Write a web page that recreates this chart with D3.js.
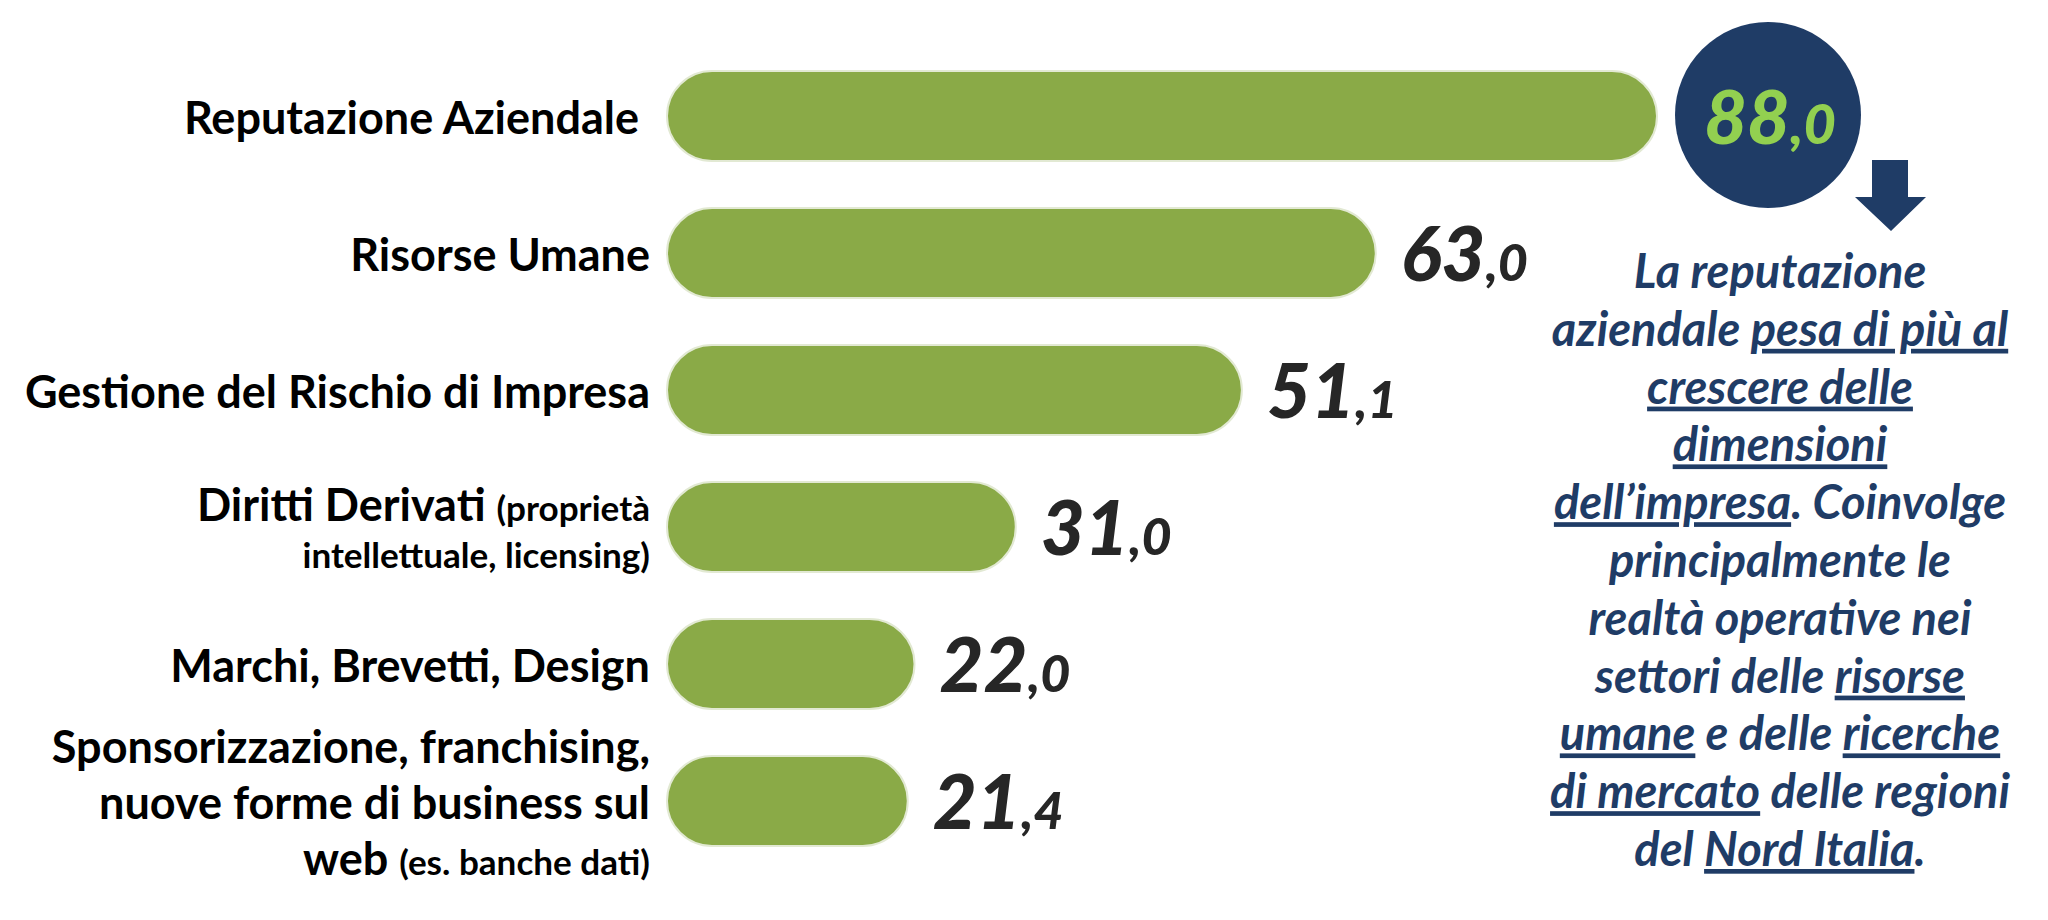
<!DOCTYPE html>
<html>
<head>
<meta charset="utf-8">
<script src="https://cdn.jsdelivr.net/npm/d3@7"></script>
<style>
  html, body { margin: 0; padding: 0; background: #ffffff; }
  svg { display: block; }
  text { font-family: Lato, "Open Sans", sans-serif; }
</style>
</head>
<body>
<div id="chart"></div>
<script>
// ---- data ----
const categories = [
    'Reputazione Aziendale',
    'Risorse Umane',
    'Gestione del Rischio di Impresa',
    'Diritti Derivati (proprietà intellettuale, licensing)',
    'Marchi, Brevetti, Design',
    'Sponsorizzazione, franchising, nuove forme di business sul web (es. banche dati)'
];
const values = [88.0, 63.0, 51.1, 31.0, 22.0, 21.4];

// label lines: each segment is [text, isSmall]
const labelLines = [
    [[['Reputazione Aziendale ', false]]],
    [[['Risorse Umane', false]]],
    [[['Gestione del Rischio di Impresa', false]]],
    [[['Diritti Derivati ', false], ['(proprietà', true]],
     [['intellettuale, licensing)', true]]],
    [[['Marchi, Brevetti, Design', false]]],
    [[['Sponsorizzazione, franchising,', false]],
     [['nuove forme di business sul', false]],
     [['web ', false], ['(es. banche dati)', true]]]
];

// side note: each segment is [text, underlined]
const noteLines = [
    [['La reputazione', false]],
    [['aziendale ', false], ['pesa di più al', true]],
    [['crescere delle', true]],
    [['dimensioni', true]],
    [['dell’impresa', true], ['. Coinvolge', false]],
    [['principalmente le', false]],
    [['realtà operative nei', false]],
    [['settori delle ', false], ['risorse', true]],
    [['umane', true], [' e delle ', false], ['ricerche', true]],
    [['di mercato', true], [' delle regioni', false]],
    [['del ', false], ['Nord Italia', true], ['.', false]]
];

// ---- styles ----
const W = 2048, H = 920;
const barColor = '#8aaa47';
const navy = '#1f3c66';
const lightGreen = '#92d050';
const labelSize = 45;
const valueBig = 76, valueSmall = 52;

const svg = d3.select('#chart')
    .append('svg')
    .attr('width', W)
    .attr('height', H)
    .attr('viewBox', `0 0 ${W} ${H}`);

const x = d3.scaleLinear()
    .domain([0, 88])
    .range([667, 1657]);

const y = d3.scaleBand()
    .domain(categories)
    .range([71, 846])
    .paddingInner(0.343)
    .paddingOuter(0);

const bw = y.bandwidth();
const cy = d => y(d) + bw / 2;

const data = categories.map((c, i) => ({ cat: c, value: values[i], lines: labelLines[i] }));

// bars
svg.append('g')
    .selectAll('rect')
    .data(data)
    .join('rect')
    .attr('x', x(0))
    .attr('y', d => y(d.cat))
    .attr('width', d => x(d.value) - x(0))
    .attr('height', bw)
    .attr('rx', bw / 2)
    .attr('ry', bw / 2)
    .attr('fill', barColor)
    .attr('stroke', '#e2e9d3')
    .attr('stroke-width', 2);

// category labels
const labels = svg.append('g')
    .selectAll('text')
    .data(data)
    .join('text')
    .attr('text-anchor', 'end')
    .attr('font-weight', 700)
    .attr('font-size', labelSize)
    .attr('fill', '#000000')
    .style('white-space', 'pre');

labels.each(function (d) {
    const el = d3.select(this);
    const adv = d.lines.map((line, i) => i === 0 ? 0 : (line.every(s => s[1]) ? 47 : 56));
    const total = d3.sum(adv);
    let yy = cy(d.cat) + 18 - total / 2;
    d.lines.forEach((line, i) => {
        yy += adv[i];
        line.forEach((seg, j) => {
            const t = el.append('tspan')
                .text(seg[0])
                .attr('font-size', seg[1] ? labelSize * 0.78 : labelSize);
            if (j === 0) t.attr('x', x(0) - 17).attr('y', yy);
        });
    });
});

// value labels (first value sits in the circle)
const fmt = d3.format('.1f');
const valueLabels = svg.append('g')
    .selectAll('text')
    .data(data.slice(1))
    .join('text')
    .attr('x', d => x(d.value) + 25)
    .attr('y', d => cy(d.cat) + 28)
    .attr('font-weight', 900)
    .attr('font-style', 'italic')
    .attr('fill', '#262626');
valueLabels.append('tspan')
    .attr('font-size', valueBig)
    .text(d => fmt(d.value).split('.')[0]);
valueLabels.append('tspan')
    .attr('font-size', valueSmall)
    .text(d => ',' + fmt(d.value).split('.')[1]);

// highlight circle for the top value
const first = data[0];
const r = 93;
const ccx = x(first.value) + 18 + r;
const ccy = cy(first.cat) - 1;

svg.append('circle')
    .attr('cx', ccx)
    .attr('cy', ccy)
    .attr('r', r)
    .attr('fill', navy);

const topLabel = svg.append('text')
    .attr('x', ccx + 2)
    .attr('y', ccy + 29)
    .attr('text-anchor', 'middle')
    .attr('font-weight', 900)
    .attr('font-style', 'italic')
    .attr('fill', lightGreen);
topLabel.append('tspan').attr('font-size', 74).text(fmt(first.value).split('.')[0]);
topLabel.append('tspan').attr('font-size', 56).text(',' + fmt(first.value).split('.')[1]);

// down arrow
const arrow = d3.path();
arrow.moveTo(ccx + 104, ccy + 45);
arrow.lineTo(ccx + 140, ccy + 45);
arrow.lineTo(ccx + 140, ccy + 82);
arrow.lineTo(ccx + 158, ccy + 82);
arrow.lineTo(ccx + 123, ccy + 116);
arrow.lineTo(ccx + 87, ccy + 82);
arrow.lineTo(ccx + 104, ccy + 82);
arrow.closePath();
svg.append('path')
    .attr('d', arrow.toString())
    .attr('fill', navy);

// side note
const note = svg.append('text')
    .attr('text-anchor', 'middle')
    .attr('font-weight', 700)
    .attr('font-style', 'italic')
    .attr('font-size', 47)
    .attr('fill', navy)
    .style('white-space', 'pre');

noteLines.forEach((line, i) => {
    line.forEach((seg, j) => {
        const t = note.append('tspan')
            .text(seg[0])
            .style('text-decoration', seg[1] ? 'underline' : 'none');
        if (j === 0) t.attr('x', 1780).attr('y', 288 + i * 57.8);
    });
});
</script>
</body>
</html>
